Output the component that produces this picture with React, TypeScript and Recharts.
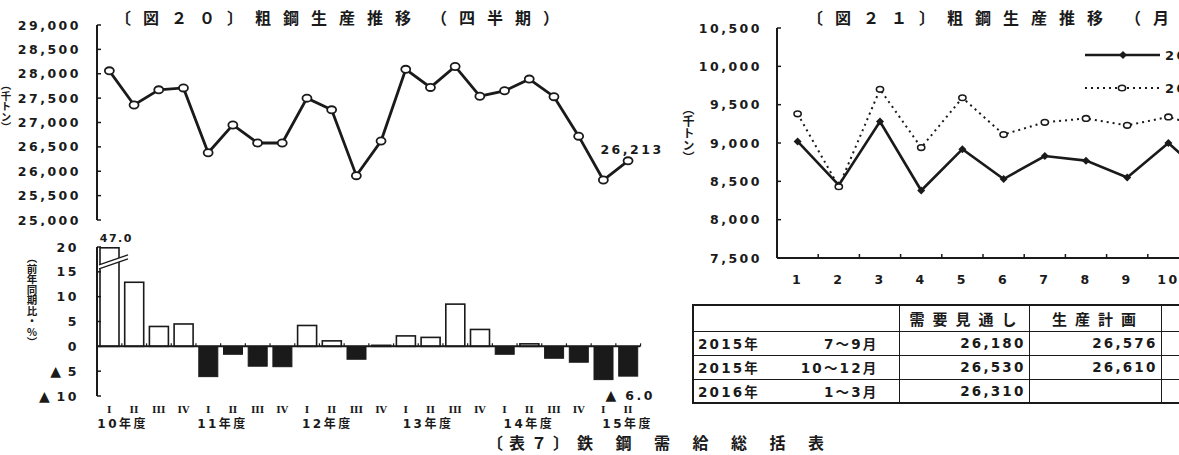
import React from 'react';
import {
  LineChart,
  Line,
  BarChart,
  Bar,
  XAxis,
  YAxis,
  ReferenceLine,
  ReferenceDot,
  LabelList,
  Legend,
} from 'recharts';

// 図20 粗鋼生産推移（四半期） 千トン / 前年同期比 %
const quarterLabels = ['I', 'II', 'III', 'IV', 'I', 'II', 'III', 'IV', 'I', 'II', 'III', 'IV', 'I', 'II', 'III', 'IV', 'I', 'II', 'III', 'IV', 'I', 'II'];
const fiscalYearLabels = ['10年度', '', '', '', '11年度', '', '', '', '12年度', '', '', '', '13年度', '', '', '', '14年度', '', '', '', '15年度', ''];
const quarterlyOutput = [28060, 27360, 27670, 27710, 26380, 26950, 26580, 26580, 27500, 27260, 25910, 26620, 28090, 27720, 28150, 27540, 27650, 27890, 27530, 26720, 25820, 26213];
const quarterlyYoy = [47.0, 12.9, 4.0, 4.5, -6.1, -1.6, -4.0, -4.1, 4.2, 1.1, -2.6, 0.2, 2.1, 1.8, 8.5, 3.4, -1.6, 0.5, -2.4, -3.2, -6.7, -6.0];
const outputTicks = [25000, 25500, 26000, 26500, 27000, 27500, 28000, 28500, 29000];
const yoyTicks = [-10, -5, 0, 5, 10, 15, 20];

// 図21 粗鋼生産推移（月次） 千トン
const months = ['1', '2', '3', '4', '5', '6', '7', '8', '9', '10', '11', '12'];
const output2015 = [9020, 8450, 9280, 8380, 8920, 8530, 8830, 8770, 8550, 9000, 8520, null];
const output2014 = [9380, 8430, 9700, 8940, 9590, 9110, 9270, 9320, 9230, 9340, 9180, null];
const monthlyTicks = [7500, 8000, 8500, 9000, 9500, 10000, 10500];
const seriesNames = ['2015年', '2014年'];

// 表
const tableHead = ['', '需要見通し', '生産計画', ''];
const periodYears = ['2015年', '2015年', '2016年'];
const periodMonths = ['7～9月', '10～12月', '1～3月'];
const demandOutlook = ['26,180', '26,530', '26,310'];
const productionPlan = ['26,576', '26,610', ''];

const quarterRows = quarterlyOutput.map((v, i) => ({
  idx: i,
  quarter: quarterLabels[i],
  fy: fiscalYearLabels[i],
  output: v,
  yoy: quarterlyYoy[i],
}));
const monthRows = months.map((m, i) => ({ month: m, y2015: output2015[i], y2014: output2014[i] }));

const CJK = '"Noto Sans CJK JP", sans-serif';
const NUM = '"DejaVu Sans", "Noto Sans CJK JP", sans-serif';
const INK = '#1a1a1a';
const numStyle: React.CSSProperties = { fontFamily: NUM, fontWeight: 700, fontSize: 12.5, letterSpacing: 2.5, fill: INK };

const PLOT_W = 543.4;
const BAND = PLOT_W / quarterRows.length;
const YOY_MAX = 20;
const yearShift = [-12, -11, -5, -3, -1, -1];

const fmtThousands = (v: number) => v.toLocaleString('en-US');
const fmtYoy = (v: number) => (v < 0 ? `▲ ${Math.abs(v)}` : `${v}`);

// inward tick mark + label on the left
const YTick = (props: any) => {
  const { x, y, payload, gap, fmt } = props;
  const ax = x + gap;
  const label = fmt(payload.value);
  const neg = label.startsWith('▲');
  return (
    <g>
      <line x1={ax} x2={ax + 4} y1={y} y2={y} stroke={INK} strokeWidth={1.5} />
      <text x={x} y={y} dy={4.5} textAnchor="end" style={numStyle}>
        {neg ? (
          <>
            <tspan style={{ fontSize: 14, letterSpacing: 0 }}>▲</tspan>
            <tspan>{' ' + label.slice(2)}</tspan>
          </>
        ) : (
          label
        )}
      </text>
    </g>
  );
};

const QuarterTick = (props: any) => {
  const { x, y, index } = props;
  const fy = fiscalYearLabels[index];
  return (
    <g>
      <text x={x} y={y + 16.5} textAnchor="middle" style={{ fontFamily: '"DejaVu Serif", serif', fontWeight: 700, fontSize: 9.5, fill: INK }}>
        {quarterLabels[index]}
      </text>
      {fy ? (
        <text x={x + yearShift[Math.floor(index / 4)]} y={y + 31.5} textAnchor="start" style={{ ...numStyle, fontSize: 12, letterSpacing: 2.5 }}>
          {fy}
        </text>
      ) : null}
    </g>
  );
};

const MonthTick = (props: any) => {
  const { x, y, payload, band } = props;
  return (
    <g>
      <line x1={x + band / 2} x2={x + band / 2} y1={y} y2={y - 4} stroke={INK} strokeWidth={1.5} />
      <text x={x} y={y + 26} textAnchor="middle" style={numStyle}>
        {payload.value}
      </text>
    </g>
  );
};

const YoyBar = (props: any) => {
  const { x, y, width, height, payload } = props;
  if (x == null || y == null) return null;
  const v = payload.yoy;
  let top = Math.min(y, y + height);
  const bottom = Math.max(y, y + height);
  const zeroY = v >= 0 ? bottom : top;
  const h = bottom - top;
  const broken = v > YOY_MAX;
  if (broken) top = zeroY - (h * YOY_MAX) / v + 0.8;
  const bx = x + width / 2 + BAND / 2;
  return (
    <g>
      {v >= 0 ? (
        <rect x={x} y={top} width={width} height={zeroY - top} fill="#fff" stroke={INK} strokeWidth={1.6} />
      ) : (
        <rect x={x} y={zeroY} width={width} height={bottom - zeroY} fill={INK} stroke={INK} strokeWidth={1} />
      )}
      {broken ? (
        <g>
          <polygon points={`${x - 1},${top + 17} ${x + width + 9},${top + 7} ${x + width + 9},${top + 11} ${x - 1},${top + 21}`} fill="#fff" />
          <line x1={x - 1} y1={top + 17} x2={x + width + 9} y2={top + 7} stroke={INK} strokeWidth={1.3} />
          <line x1={x - 1} y1={top + 21} x2={x + width + 9} y2={top + 11} stroke={INK} strokeWidth={1.3} />
        </g>
      ) : null}
      <line x1={bx} x2={bx} y1={zeroY} y2={zeroY - 3} stroke={INK} strokeWidth={1.2} />
    </g>
  );
};

const LastBarLabel = (props: any) => {
  const { x, y, width, height, value, index } = props;
  if (index !== quarterRows.length - 1) return null;
  const bottom = Math.max(y, y + height);
  return (
    <text x={x + width / 2 + 2} y={bottom + 23.5} textAnchor="middle" style={numStyle}>
      <tspan style={{ fontSize: 14, letterSpacing: 2 }}>▲</tspan>
      <tspan>{' ' + Math.abs(value).toFixed(1)}</tspan>
    </text>
  );
};

const LastPointLabel = (props: any) => {
  const { x, y, value, index } = props;
  if (index !== quarterRows.length - 1) return null;
  return (
    <text x={x + 4} y={y - 7} textAnchor="middle" style={numStyle}>
      {fmtThousands(value)}
    </text>
  );
};

const MonthLegend = (props: any) => {
  const items = props.payload || [];
  return (
    <svg width={200} height={60}>
      {items.map((it: any, i: number) => {
        const cy = 10 + i * 33;
        const dashed = i === 1;
        return (
          <g key={it.value}>
            <line x1={0} x2={75} y1={cy} y2={cy} stroke={INK} strokeWidth={dashed ? 2 : 2.6} strokeDasharray={dashed ? '2 4' : undefined} />
            {dashed ? (
              <ellipse cx={37} cy={cy} rx={3.6} ry={2.8} fill="#fff" stroke={INK} strokeWidth={1.6} />
            ) : (
              <polygon points={`38,${cy - 4} 42,${cy} 38,${cy + 4} 34,${cy}`} fill={INK} />
            )}
            <text x={80} y={cy + 5} style={{ ...numStyle, fontSize: 13 }}>
              {it.value}
            </text>
          </g>
        );
      })}
    </svg>
  );
};

const titleStyle: React.CSSProperties = {
  position: 'absolute',
  fontFamily: CJK,
  fontWeight: 700,
  fontSize: 16,
  lineHeight: '16px',
  letterSpacing: 12,
  color: INK,
  whiteSpace: 'nowrap',
};

const vertStyle: React.CSSProperties = {
  position: 'absolute',
  writingMode: 'vertical-rl',
  fontFamily: CJK,
  fontWeight: 700,
  lineHeight: 1,
  color: INK,
  whiteSpace: 'nowrap',
};

const cellBase: React.CSSProperties = {
  border: `1.5px solid ${INK}`,
  fontFamily: NUM,
  fontWeight: 700,
  fontSize: 13.5,
  letterSpacing: 2.2,
  color: INK,
  padding: '0 4px',
  whiteSpace: 'nowrap',
  overflow: 'hidden',
};

export default function App() {
  return (
    <div style={{ position: 'absolute', left: 0, top: 0, width: 1179, height: 455, overflow: 'hidden', background: '#fff' }}>
      <div style={{ ...titleStyle, left: 115, top: 9 }}>
        〔図２０〕粗鋼生産推移<span style={{ marginLeft: 8 }}>（四半期）</span>
      </div>
      <div style={{ ...titleStyle, left: 807, top: 9 }}>
        〔図２１〕粗鋼生産推移<span style={{ marginLeft: 10 }}>（月次）</span>
      </div>
      <div style={{ ...vertStyle, left: 0, top: 80, fontSize: 10.5 }}>（千トン）</div>
      <div style={{ ...vertStyle, left: 682, top: 103, fontSize: 12 }}>（千トン）</div>
      <div style={{ ...vertStyle, left: 26, top: 253, fontSize: 10.5 }}>（前年同期比・％）</div>

      {/* 図20 上段: 生産量 */}
      <div style={{ position: 'absolute', left: 0, top: 0 }}>
        <LineChart width={680} height={226} data={quarterRows} margin={{ top: 25, right: 39.6, bottom: 6, left: 0 }}>
          <XAxis dataKey="idx" type="category" scale="band" hide />
          <YAxis
            type="number"
            domain={[25000, 29000]}
            ticks={outputTicks}
            interval={0}
            width={97}
            tickSize={0}
            tickMargin={16}
            axisLine={{ stroke: INK, strokeWidth: 2 }}
            tickLine={false}
            tick={(p: any) => <YTick {...p} gap={16} fmt={fmtThousands} />}
          />
          <Line
            dataKey="output"
            stroke={INK}
            strokeWidth={2.8}
            isAnimationActive={false}
            dot={(p: any) => <ellipse key={p.index} cx={p.cx} cy={p.cy} rx={4.5} ry={3.6} fill="#fff" stroke={INK} strokeWidth={1.8} />}
          >
            <LabelList dataKey="output" content={LastPointLabel} />
          </Line>
        </LineChart>
      </div>

      {/* 図20 下段: 前年同期比 */}
      <div style={{ position: 'absolute', left: 0, top: 230 }}>
        <BarChart width={680} height={211} data={quarterRows} margin={{ top: 17, right: 39.6, bottom: 5, left: 0 }}>
          <XAxis
            dataKey="idx"
            type="category"
            scale="band"
            interval={0}
            height={40}
            axisLine={false}
            tickLine={false}
            tickSize={0}
            tickMargin={0}
            tick={(p: any) => <QuarterTick {...p} />}
          />
          <YAxis
            type="number"
            domain={[-10, YOY_MAX]}
            allowDataOverflow
            ticks={yoyTicks}
            interval={0}
            width={97}
            tickSize={0}
            tickMargin={18}
            axisLine={{ stroke: INK, strokeWidth: 2 }}
            tickLine={false}
            tick={(p: any) => <YTick {...p} gap={18} fmt={fmtYoy} />}
          />
          <Bar dataKey="yoy" barSize={19} isAnimationActive={false} shape={YoyBar}>
            <LabelList dataKey="yoy" content={LastBarLabel} />
          </Bar>
          <ReferenceLine y={0} stroke={INK} strokeWidth={2} />
          <ReferenceDot
            x={0}
            y={YOY_MAX}
            r={0}
            fill="none"
            stroke="none"
            label={{
              content: (p: any) => (
                <text x={(p.viewBox?.x ?? 0) + 7} y={(p.viewBox?.y ?? 0) - 5} textAnchor="middle" style={{ ...numStyle, fontSize: 11, letterSpacing: 1.5 }}>
                  {quarterlyYoy[0].toFixed(1)}
                </text>
              ),
            }}
          />
        </BarChart>
      </div>

      {/* 図21 月次 */}
      <div style={{ position: 'absolute', left: 680, top: 0 }}>
        <LineChart width={620} height={290} data={monthRows} margin={{ top: 28, right: 28.6, bottom: 2, left: 0 }}>
          <XAxis
            dataKey="month"
            type="category"
            scale="band"
            interval={0}
            height={30}
            axisLine={{ stroke: INK, strokeWidth: 2 }}
            tickLine={false}
            tickSize={0}
            tickMargin={0}
            tick={(p: any) => <MonthTick {...p} band={494.4 / months.length} />}
          />
          <YAxis
            type="number"
            domain={[7500, 10500]}
            ticks={monthlyTicks}
            interval={0}
            width={97}
            tickSize={0}
            tickMargin={15}
            axisLine={{ stroke: INK, strokeWidth: 2 }}
            tickLine={false}
            tick={(p: any) => <YTick {...p} gap={15} fmt={fmtThousands} />}
          />
          <Legend
            layout="horizontal"
            verticalAlign="middle"
            align="center"
            wrapperStyle={{ left: 405, top: 45, width: 200, height: 60 }}
            content={(p: any) => <MonthLegend payload={p.payload} />}
          />
          <Line
            dataKey="y2015"
            name={seriesNames[0]}
            stroke={INK}
            strokeWidth={2.6}
            isAnimationActive={false}
            dot={(p: any) =>
              p.cy == null ? <g key={p.index} /> : (
                <polygon key={p.index} points={`${p.cx},${p.cy - 4} ${p.cx + 4},${p.cy} ${p.cx},${p.cy + 4} ${p.cx - 4},${p.cy}`} fill={INK} />
              )
            }
          />
          <Line
            dataKey="y2014"
            name={seriesNames[1]}
            stroke={INK}
            strokeWidth={2}
            strokeDasharray="2 4"
            isAnimationActive={false}
            dot={(p: any) =>
              p.cy == null ? <g key={p.index} /> : (
                <ellipse key={p.index} cx={p.cx} cy={p.cy} rx={3.6} ry={2.8} fill="#fff" stroke={INK} strokeWidth={1.6} />
              )
            }
          />
        </LineChart>
      </div>

      {/* 表 */}
      <table
        style={{
          position: 'absolute',
          left: 692,
          top: 304,
          borderCollapse: 'collapse',
          tableLayout: 'fixed',
          width: 600,
          border: `2.5px solid ${INK}`,
        }}
      >
        <colgroup>
          <col style={{ width: 206 }} />
          <col style={{ width: 130 }} />
          <col style={{ width: 132 }} />
          <col style={{ width: 132 }} />
        </colgroup>
        <tbody>
          <tr style={{ height: 26 }}>
            {tableHead.map((h, i) => (
              <td key={i} style={{ ...cellBase, fontFamily: CJK, fontSize: 15, letterSpacing: 8, textAlign: 'center', paddingLeft: 10 }}>
                {h}
              </td>
            ))}
          </tr>
          {periodYears.map((yr, r) => (
            <tr key={r} style={{ height: 24 }}>
              <td style={{ ...cellBase, paddingRight: 20 }}>
                <div style={{ display: 'flex', justifyContent: 'space-between' }}>
                  <span>{yr}</span>
                  <span>{periodMonths[r]}</span>
                </div>
              </td>
              <td style={{ ...cellBase, textAlign: 'right', paddingRight: 3 }}>{demandOutlook[r]}</td>
              <td style={{ ...cellBase, textAlign: 'right', paddingRight: 3 }}>{productionPlan[r]}</td>
              <td style={cellBase}></td>
            </tr>
          ))}
        </tbody>
      </table>

      <div style={{ ...titleStyle, left: 487, top: 434, letterSpacing: 6 }}>
        〔表７〕
        <span style={{ marginLeft: 2, letterSpacing: 22.5 }}>鉄鋼需給総括表</span>
      </div>
    </div>
  );
}
